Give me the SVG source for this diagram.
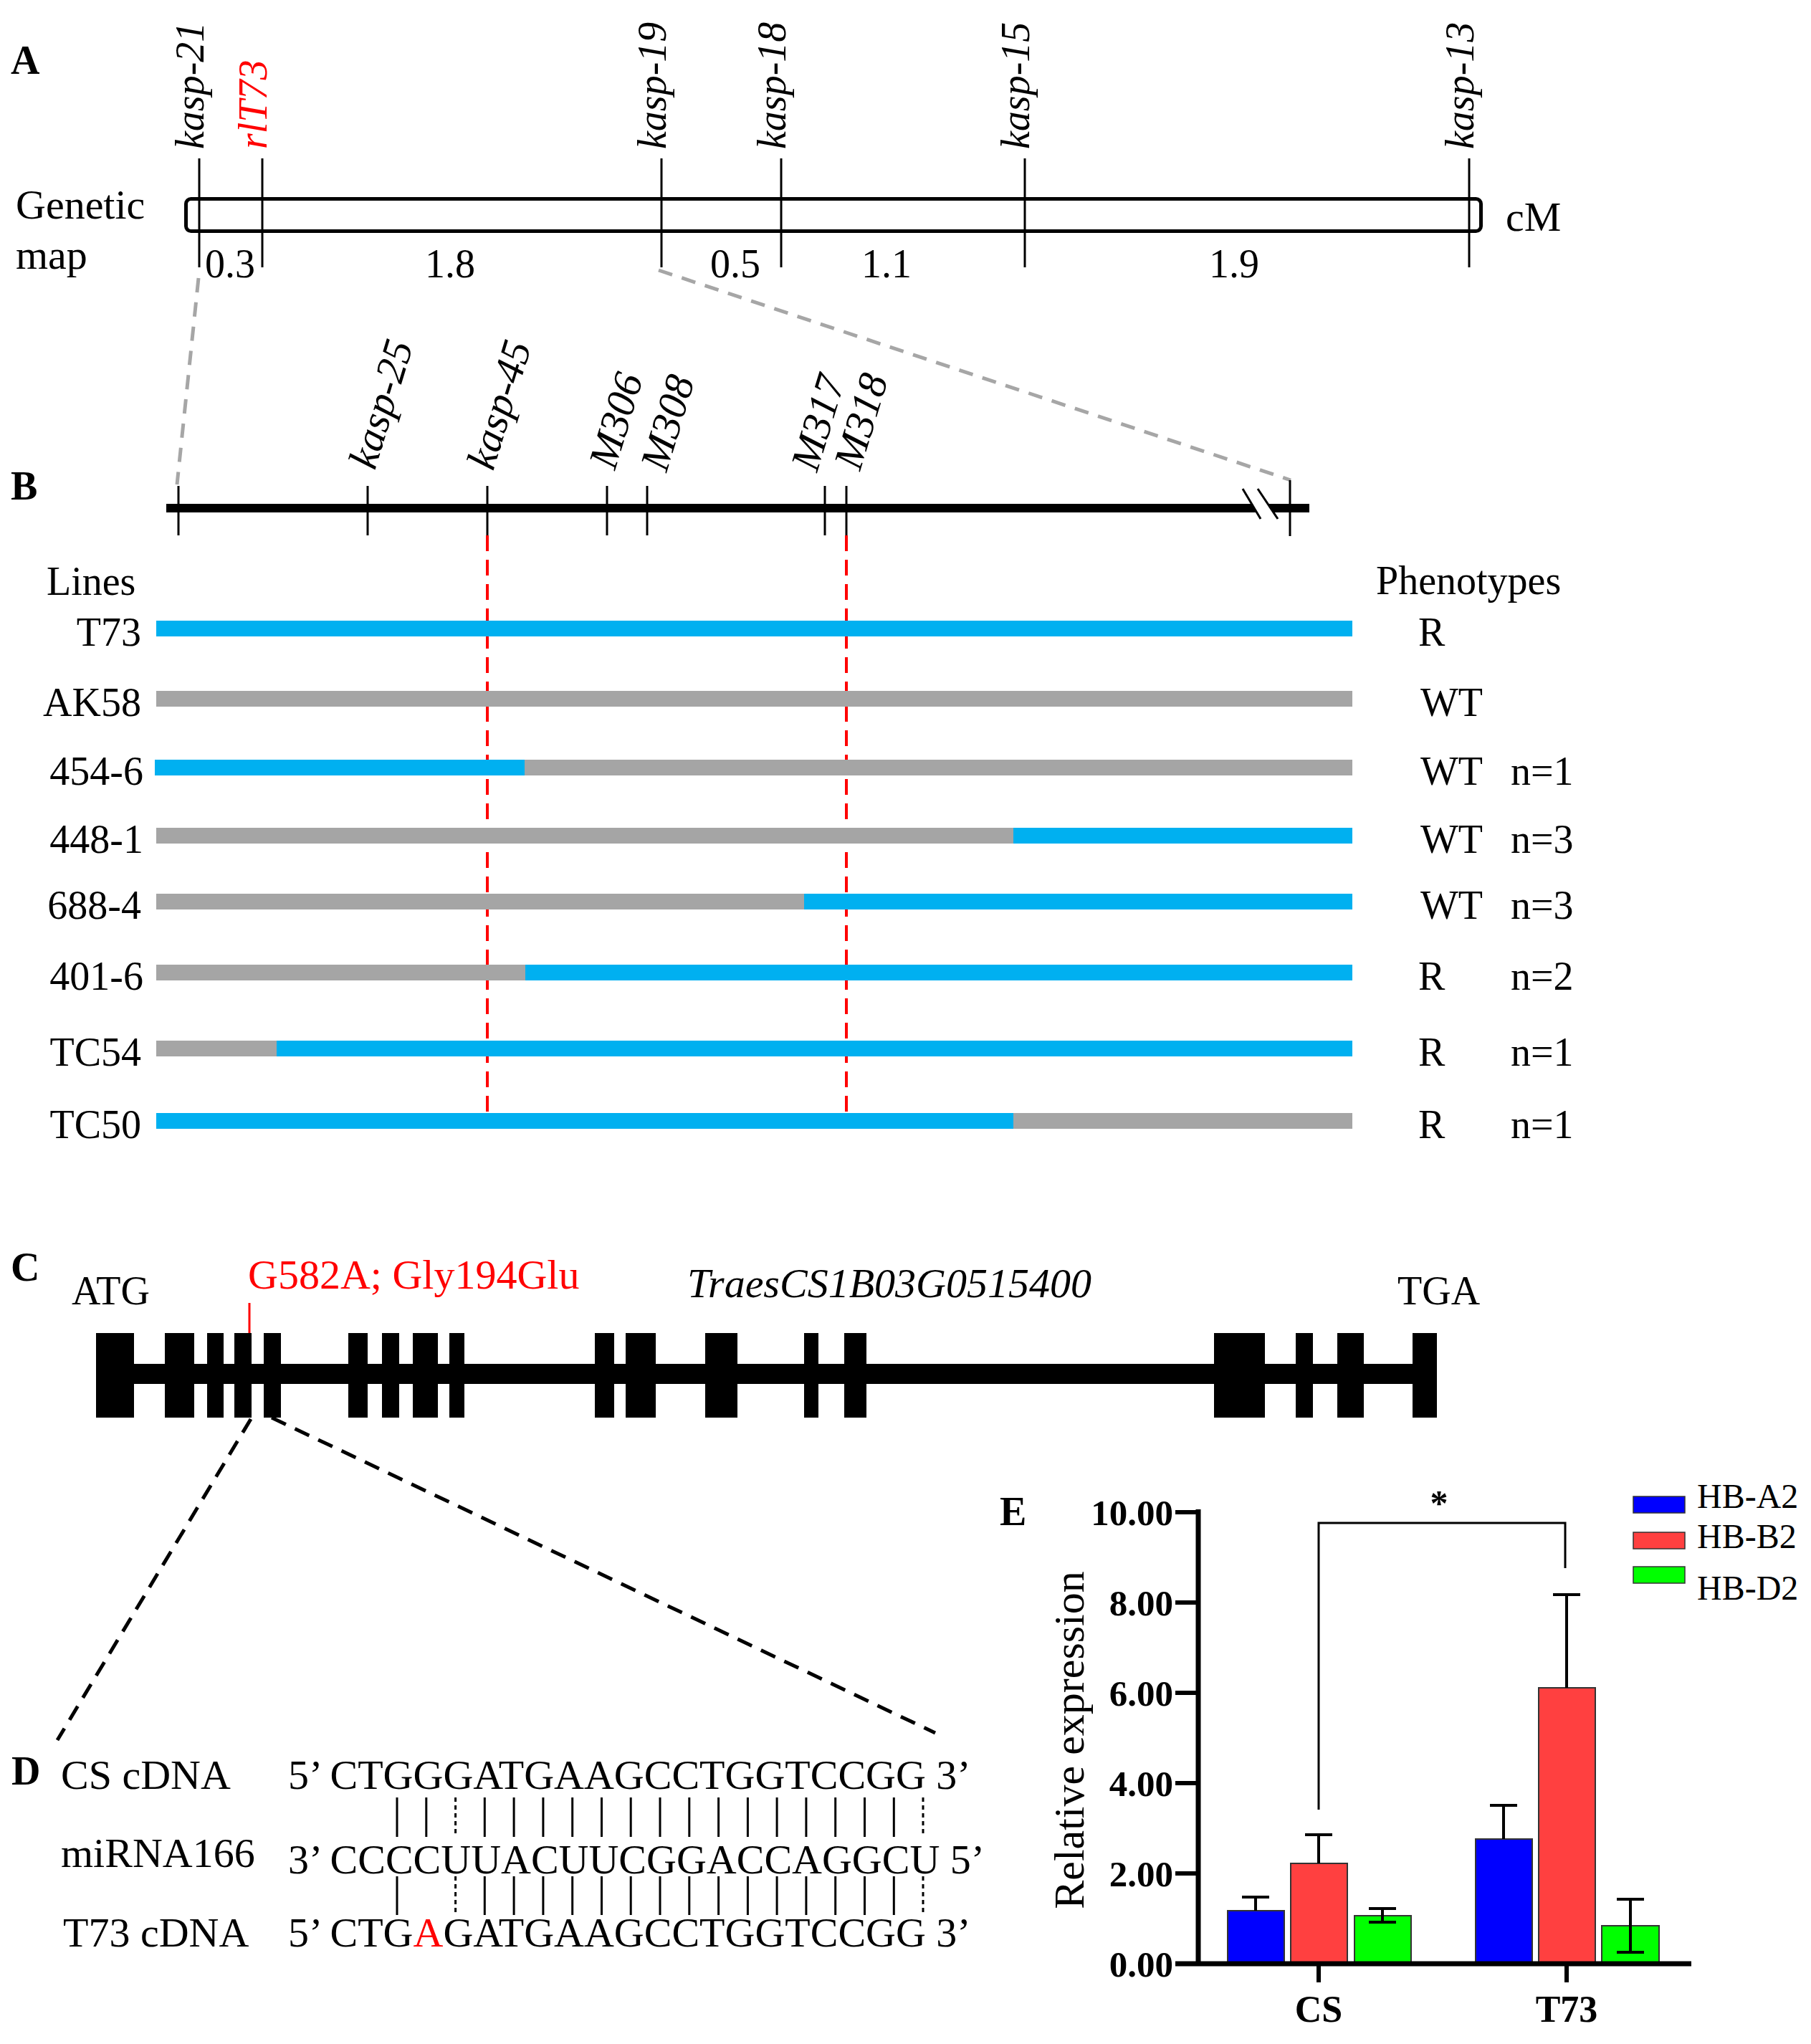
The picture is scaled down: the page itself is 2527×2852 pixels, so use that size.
<svg xmlns="http://www.w3.org/2000/svg" width="2527" height="2852" viewBox="0 0 2527 2852">
<style>
text { font-family: "Liberation Serif", "Times New Roman", serif; fill: #000; }
.f56 { font-size: 56px; }
.f58 { font-size: 58px; }
.lab { font-size: 56px; font-weight: bold; }
.it { font-style: italic; }
.red { fill: #ff0000; }
.tk { stroke: #000; stroke-width: 3; }
.blue { fill: #00b0f0; }
.gray { fill: #a5a5a5; }
.exon { fill: #000; }
.pair { stroke: #000; stroke-width: 3; }
.paird { stroke: #000; stroke-width: 3; stroke-dasharray: 6 5; }
.tl { font-size: 51px; font-weight: bold; text-anchor: end; }
.bar { stroke: #333; stroke-width: 2; }
.eb { stroke: #000; stroke-width: 4; fill: none; }
.leg { font-size: 48px; }
</style>
<rect width="2527" height="2852" fill="#fff"/>

<g id="panelA">
  <text class="lab" x="15" y="103">A</text>
  <rect x="259.5" y="277.5" width="1807" height="45" rx="7" fill="none" stroke="#000" stroke-width="5"/>
  <line class="tk" x1="278" y1="221" x2="278" y2="373"/>
  <line class="tk" x1="366" y1="221" x2="366" y2="373"/>
  <line class="tk" x1="923" y1="221" x2="923" y2="373"/>
  <line class="tk" x1="1090" y1="221" x2="1090" y2="373"/>
  <line class="tk" x1="1430" y1="221" x2="1430" y2="373"/>
  <line class="tk" x1="2050" y1="221" x2="2050" y2="373"/>
  <text class="f56 it" transform="translate(284,208) rotate(-90)">kasp-21</text>
  <text class="f56 it red" transform="translate(372,208) rotate(-90)">rlT73</text>
  <text class="f56 it" transform="translate(929,208) rotate(-90)">kasp-19</text>
  <text class="f56 it" transform="translate(1096,208) rotate(-90)">kasp-18</text>
  <text class="f56 it" transform="translate(1436,208) rotate(-90)">kasp-15</text>
  <text class="f56 it" transform="translate(2056,208) rotate(-90)">kasp-13</text>
  <text class="f58" x="22" y="305">Genetic</text>
  <text class="f58" x="22" y="375">map</text>
  <text class="f56" x="286" y="387">0.3</text>
  <text class="f56" x="593" y="387">1.8</text>
  <text class="f56" x="991" y="387">0.5</text>
  <text class="f56" x="1202" y="387">1.1</text>
  <text class="f56" x="1687" y="387">1.9</text>
  <text class="f58" x="2101" y="322">cM</text>
</g>

<g id="connectors">
  <line x1="277" y1="388" x2="247" y2="676" stroke="#a6a6a6" stroke-width="5" stroke-dasharray="20 14"/>
  <line x1="919" y1="377" x2="1801" y2="670" stroke="#a6a6a6" stroke-width="5" stroke-dasharray="20 14"/>
  <line x1="680" y1="747" x2="680" y2="1565" stroke="#ff0000" stroke-width="4" stroke-dasharray="22 12"/>
  <line x1="1181" y1="747" x2="1181" y2="1565" stroke="#ff0000" stroke-width="4" stroke-dasharray="22 12"/>
  <line x1="350" y1="1980" x2="80" y2="2428" stroke="#000" stroke-width="5" stroke-dasharray="22 14"/>
  <line x1="379" y1="1978" x2="1305" y2="2418" stroke="#000" stroke-width="5" stroke-dasharray="22 14"/>
</g>

<g id="panelB">
  <text class="lab" x="15" y="697">B</text>
  <line x1="232" y1="709" x2="1827" y2="709" stroke="#000" stroke-width="12"/>
  <polygon points="1747,701 1769,701 1778,717 1754,717" fill="#fff"/>
  <line x1="1734" y1="682" x2="1759" y2="724" stroke="#000" stroke-width="3"/>
  <line x1="1755" y1="682" x2="1783" y2="724" stroke="#000" stroke-width="3"/>
  <line class="tk" x1="249" y1="678" x2="249" y2="747"/>
  <line class="tk" x1="513" y1="678" x2="513" y2="747"/>
  <line class="tk" x1="680" y1="678" x2="680" y2="747"/>
  <line class="tk" x1="847" y1="678" x2="847" y2="747"/>
  <line class="tk" x1="903" y1="678" x2="903" y2="747"/>
  <line class="tk" x1="1151" y1="678" x2="1151" y2="747"/>
  <line class="tk" x1="1181" y1="678" x2="1181" y2="747"/>
  <line class="tk" x1="1800" y1="670" x2="1800" y2="748"/>
  <text class="f58 it" transform="translate(523,657) rotate(-73)">kasp-25</text>
  <text class="f58 it" transform="translate(688,658) rotate(-73)">kasp-45</text>
  <text class="f58 it" transform="translate(858,657) rotate(-73)">M306</text>
  <text class="f58 it" transform="translate(930,660) rotate(-73)">M308</text>
  <text class="f58 it" transform="translate(1140,660) rotate(-73)">M317</text>
  <text class="f58 it" transform="translate(1200,658) rotate(-73)">M318</text>
  <text class="f56" x="65" y="830">Lines</text>
  <text class="f56" x="1920" y="829">Phenotypes</text>

  <g id="row-T73">
    <rect class="blue" x="218" y="866" width="1669" height="22"/>
    <text class="f56" x="197" y="901" text-anchor="end">T73</text>
    <text class="f56" x="1979" y="901">R</text>
  </g>
  <g id="row-AK58">
    <rect class="gray" x="218" y="964" width="1669" height="22"/>
    <text class="f56" x="197" y="999" text-anchor="end">AK58</text>
    <text class="f56" x="1982" y="999">WT</text>
  </g>
  <g id="row-454-6">
    <rect class="blue" x="216" y="1060" width="516" height="22"/>
    <rect class="gray" x="732" y="1060" width="1155" height="22"/>
    <text class="f56" x="200" y="1095" text-anchor="end">454-6</text>
    <text class="f56" x="1982" y="1095">WT</text>
    <text class="f56" x="2108" y="1095">n=1</text>
  </g>
  <g id="row-448-1">
    <rect class="gray" x="218" y="1155" width="1196" height="22"/>
    <rect class="blue" x="1414" y="1155" width="473" height="22"/>
    <text class="f56" x="200" y="1190" text-anchor="end">448-1</text>
    <text class="f56" x="1982" y="1190">WT</text>
    <text class="f56" x="2108" y="1190">n=3</text>
  </g>
  <g id="row-688-4">
    <rect class="gray" x="218" y="1247" width="904" height="22"/>
    <rect class="blue" x="1122" y="1247" width="765" height="22"/>
    <text class="f56" x="197" y="1282" text-anchor="end">688-4</text>
    <text class="f56" x="1982" y="1282">WT</text>
    <text class="f56" x="2108" y="1282">n=3</text>
  </g>
  <g id="row-401-6">
    <rect class="gray" x="218" y="1346" width="515" height="22"/>
    <rect class="blue" x="733" y="1346" width="1154" height="22"/>
    <text class="f56" x="200" y="1381" text-anchor="end">401-6</text>
    <text class="f56" x="1979" y="1381">R</text>
    <text class="f56" x="2108" y="1381">n=2</text>
  </g>
  <g id="row-TC54">
    <rect class="gray" x="218" y="1452" width="168" height="22"/>
    <rect class="blue" x="386" y="1452" width="1501" height="22"/>
    <text class="f56" x="197" y="1487" text-anchor="end">TC54</text>
    <text class="f56" x="1979" y="1487">R</text>
    <text class="f56" x="2108" y="1487">n=1</text>
  </g>
  <g id="row-TC50">
    <rect class="blue" x="218" y="1553" width="1196" height="22"/>
    <rect class="gray" x="1414" y="1553" width="473" height="22"/>
    <text class="f56" x="197" y="1588" text-anchor="end">TC50</text>
    <text class="f56" x="1979" y="1588">R</text>
    <text class="f56" x="2108" y="1588">n=1</text>
  </g>
</g>

<g id="panelC">
  <text class="lab" x="15" y="1787">C</text>
  <text class="f56" x="100" y="1820">ATG</text>
  <text class="f58 red" x="346" y="1798">G582A; Gly194Glu</text>
  <text class="f58 it" x="959" y="1810">TraesCS1B03G0515400</text>
  <text class="f56" x="1950" y="1820">TGA</text>
  <line x1="348" y1="1818" x2="348" y2="1860" stroke="#ff0000" stroke-width="3"/>
  <rect class="exon" x="134" y="1903" width="1871" height="28"/>
  <rect class="exon" x="134" y="1860" width="53" height="118"/>
  <rect class="exon" x="230" y="1860" width="41" height="118"/>
  <rect class="exon" x="289" y="1860" width="23" height="118"/>
  <rect class="exon" x="327" y="1860" width="24" height="118"/>
  <rect class="exon" x="368" y="1860" width="24" height="118"/>
  <rect class="exon" x="486" y="1860" width="27" height="118"/>
  <rect class="exon" x="533" y="1860" width="24" height="118"/>
  <rect class="exon" x="576" y="1860" width="35" height="118"/>
  <rect class="exon" x="627" y="1860" width="21" height="118"/>
  <rect class="exon" x="830" y="1860" width="27" height="118"/>
  <rect class="exon" x="873" y="1860" width="42" height="118"/>
  <rect class="exon" x="984" y="1860" width="45" height="118"/>
  <rect class="exon" x="1122" y="1860" width="20" height="118"/>
  <rect class="exon" x="1178" y="1860" width="31" height="118"/>
  <rect class="exon" x="1694" y="1860" width="71" height="118"/>
  <rect class="exon" x="1808" y="1860" width="24" height="118"/>
  <rect class="exon" x="1866" y="1860" width="37" height="118"/>
  <rect class="exon" x="1971" y="1860" width="34" height="118"/>
</g>

<g id="panelD">
  <text class="lab" x="16" y="2490">D</text>
  <text class="f58" x="85" y="2496">CS cDNA</text>
  <text class="f58" x="85" y="2605">miRNA166</text>
  <text class="f58" x="88" y="2716">T73 cDNA</text>
  <text class="f58" x="402" y="2496">5’ CTGGGATGAAGCCTGGTCCGG 3’</text>
  <text class="f58" x="402" y="2614">3’ CCCCUUACUUCGGACCAGGCU 5’</text>
  <text class="f58" x="402" y="2716">5’ CTG<tspan fill="#ff0000">A</tspan>GATGAAGCCTGGTCCGG 3’</text>
  <g id="pairs-upper">
    <line class="pair" x1="554" y1="2508" x2="554" y2="2563"/>
    <line class="pair" x1="594.8" y1="2508" x2="594.8" y2="2563"/>
    <line class="paird" x1="635.6" y1="2508" x2="635.6" y2="2563"/>
    <line class="pair" x1="676.3" y1="2508" x2="676.3" y2="2563"/>
    <line class="pair" x1="717.1" y1="2508" x2="717.1" y2="2563"/>
    <line class="pair" x1="757.9" y1="2508" x2="757.9" y2="2563"/>
    <line class="pair" x1="798.7" y1="2508" x2="798.7" y2="2563"/>
    <line class="pair" x1="839.5" y1="2508" x2="839.5" y2="2563"/>
    <line class="pair" x1="880.2" y1="2508" x2="880.2" y2="2563"/>
    <line class="pair" x1="921" y1="2508" x2="921" y2="2563"/>
    <line class="pair" x1="961.8" y1="2508" x2="961.8" y2="2563"/>
    <line class="pair" x1="1002.6" y1="2508" x2="1002.6" y2="2563"/>
    <line class="pair" x1="1043.4" y1="2508" x2="1043.4" y2="2563"/>
    <line class="pair" x1="1084.1" y1="2508" x2="1084.1" y2="2563"/>
    <line class="pair" x1="1124.9" y1="2508" x2="1124.9" y2="2563"/>
    <line class="pair" x1="1165.7" y1="2508" x2="1165.7" y2="2563"/>
    <line class="pair" x1="1206.5" y1="2508" x2="1206.5" y2="2563"/>
    <line class="pair" x1="1247.3" y1="2508" x2="1247.3" y2="2563"/>
    <line class="paird" x1="1288" y1="2508" x2="1288" y2="2563"/>
  </g>
  <g id="pairs-lower">
    <line class="pair" x1="554" y1="2618" x2="554" y2="2672"/>
    <line class="paird" x1="635.6" y1="2618" x2="635.6" y2="2672"/>
    <line class="pair" x1="676.3" y1="2618" x2="676.3" y2="2672"/>
    <line class="pair" x1="717.1" y1="2618" x2="717.1" y2="2672"/>
    <line class="pair" x1="757.9" y1="2618" x2="757.9" y2="2672"/>
    <line class="pair" x1="798.7" y1="2618" x2="798.7" y2="2672"/>
    <line class="pair" x1="839.5" y1="2618" x2="839.5" y2="2672"/>
    <line class="pair" x1="880.2" y1="2618" x2="880.2" y2="2672"/>
    <line class="pair" x1="921" y1="2618" x2="921" y2="2672"/>
    <line class="pair" x1="961.8" y1="2618" x2="961.8" y2="2672"/>
    <line class="pair" x1="1002.6" y1="2618" x2="1002.6" y2="2672"/>
    <line class="pair" x1="1043.4" y1="2618" x2="1043.4" y2="2672"/>
    <line class="pair" x1="1084.1" y1="2618" x2="1084.1" y2="2672"/>
    <line class="pair" x1="1124.9" y1="2618" x2="1124.9" y2="2672"/>
    <line class="pair" x1="1165.7" y1="2618" x2="1165.7" y2="2672"/>
    <line class="pair" x1="1206.5" y1="2618" x2="1206.5" y2="2672"/>
    <line class="pair" x1="1247.3" y1="2618" x2="1247.3" y2="2672"/>
    <line class="paird" x1="1288" y1="2618" x2="1288" y2="2672"/>
  </g>
</g>

<g id="panelE">
  <text class="lab" x="1395" y="2128">E</text>
  <text font-size="60" transform="translate(1512,2428) rotate(-90)" text-anchor="middle">Relative expression</text>
  <text class="tl" x="1637" y="2128">10.00</text>
  <text class="tl" x="1637" y="2254">8.00</text>
  <text class="tl" x="1637" y="2380">6.00</text>
  <text class="tl" x="1637" y="2506">4.00</text>
  <text class="tl" x="1637" y="2632">2.00</text>
  <text class="tl" x="1637" y="2758">0.00</text>
  <g id="bars">
    <rect class="bar" x="1713" y="2666" width="79" height="74" fill="#0000ff"/>
    <rect class="bar" x="1801" y="2600" width="79" height="140" fill="#ff4040"/>
    <rect class="bar" x="1890" y="2673" width="79" height="67" fill="#00ff00"/>
    <rect class="bar" x="2059" y="2566" width="79" height="174" fill="#0000ff"/>
    <rect class="bar" x="2147" y="2355" width="79" height="385" fill="#ff4040"/>
    <rect class="bar" x="2235" y="2687" width="80" height="53" fill="#00ff00"/>
  </g>
  <g id="errorbars">
    <path class="eb" d="M1752,2666 V2647 M1733,2647 H1771"/>
    <path class="eb" d="M1840,2600 V2560 M1821,2560 H1859"/>
    <path class="eb" d="M1929,2663 V2682 M1910,2663 H1948 M1910,2682 H1948"/>
    <path class="eb" d="M2098,2566 V2519 M2079,2519 H2117"/>
    <path class="eb" d="M2186,2355 V2225 M2167,2225 H2205"/>
    <path class="eb" d="M2275,2650 V2724 M2256,2650 H2294 M2256,2724 H2294"/>
  </g>
  <line x1="1672" y1="2106" x2="1672" y2="2743" stroke="#000" stroke-width="7"/>
  <line x1="1640" y1="2740" x2="2360" y2="2740" stroke="#000" stroke-width="7"/>
  <path d="M1640,2110 H1672 M1640,2236 H1672 M1640,2362 H1672 M1640,2488 H1672 M1640,2614 H1672" stroke="#000" stroke-width="6"/>
  <path d="M1840,2740 V2766 M2186,2740 V2766" stroke="#000" stroke-width="6"/>
  <text x="1840" y="2821" font-size="52" font-weight="bold" text-anchor="middle">CS</text>
  <text x="2186" y="2821" font-size="52" font-weight="bold" text-anchor="middle">T73</text>
  <path d="M1840,2525 V2125 H2184 V2188" fill="none" stroke="#000" stroke-width="3"/>
  <text x="2008" y="2114" font-size="50" font-weight="bold" text-anchor="middle">*</text>
  <g id="legend">
    <rect x="2279" y="2088" width="72" height="23" fill="#0000ff" stroke="#333" stroke-width="1.5"/>
    <rect x="2279" y="2138" width="72" height="23" fill="#ff4040" stroke="#333" stroke-width="1.5"/>
    <rect x="2279" y="2186" width="72" height="23" fill="#00ff00" stroke="#333" stroke-width="1.5"/>
    <text class="leg" x="2368" y="2104">HB-A2</text>
    <text class="leg" x="2368" y="2160">HB-B2</text>
    <text class="leg" x="2368" y="2232">HB-D2</text>
  </g>
</g>
</svg>
